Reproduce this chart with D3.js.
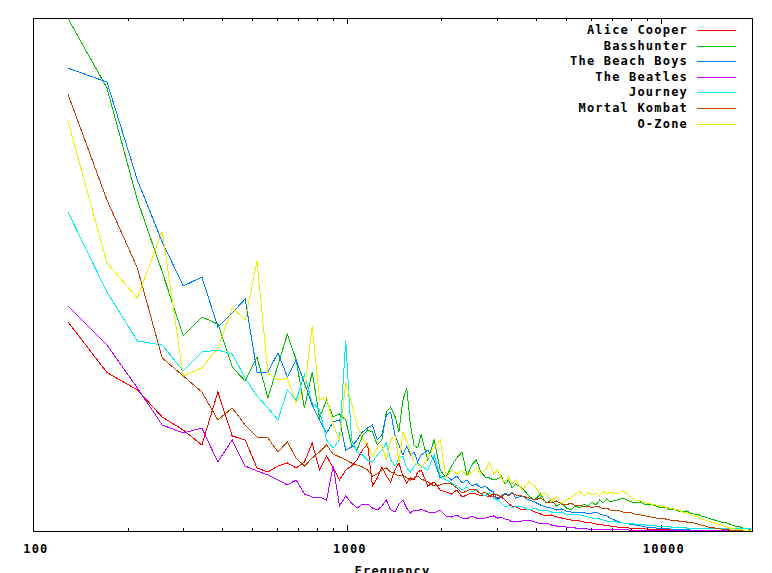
<!DOCTYPE html>
<html>
<head>
<meta charset="utf-8">
<script src="https://cdn.jsdelivr.net/npm/d3@7"></script>
<style>
  body { margin: 0; background: #fff; }
  text {
    font-family: 'DejaVu Sans Mono', monospace;
    font-weight: bold;
    font-size: 12px;
    letter-spacing: 1.2px;
    fill: #000;
  }
</style>
</head>
<body>
<svg width="772" height="573"></svg>
<script>
// FFT bin centre frequencies (Hz)
const freqs = [
  129, 172, 215, 258, 301, 345, 388, 431, 474, 517, 560, 603, 646, 689, 732, 775, 818, 861, 904, 947,
  991, 1034, 1077, 1120, 1163, 1206, 1249, 1292, 1335, 1378, 1421, 1464, 1507, 1550, 1593, 1636, 1680, 1723,
  1809, 1895, 1981, 2067, 2153, 2239, 2326, 2412, 2498, 2584, 2670, 2756, 2843, 2929, 3015, 3101, 3187, 3273, 3359, 3445,
  3618, 3790, 3962, 4134, 4307, 4479, 4651, 4823, 4996, 5168, 5340, 5512, 5685, 5857, 6029, 6201, 6374, 6546, 6718, 6890,
  7235, 7579, 7924, 8268, 8613, 8957, 9302, 9646, 9991, 10336, 10680, 11025, 11370, 11714, 12059, 12403, 12748, 13092,
  13437, 13781, 14126, 14470, 14815, 15159, 15504, 15848, 16193, 16537, 16882, 17226, 17571, 17915, 18260, 18604, 18949, 19293
]

const aliceCooper = [
  41.9, 31.7, 28.2, 22.8, 20.2, 17.2, 27.8, 19.0, 18.2, 12.6, 11.8, 13.0, 13.6, 12.6, 13.8, 17.6, 12.2, 15.0, 12.6, 10.2,
  12.2, 13.0, 14.2, 16.2, 17.4, 9.0, 10.6, 12.8, 11.0, 9.8, 12.2, 13.6, 11.0, 9.6, 10.6, 10.2, 11.8, 12.2,
  9.0, 9.8, 8.2, 7.8, 7.4, 8.2, 6.8, 7.2, 7.6, 7.4, 7.0, 7.2, 6.8, 7.0, 6.6, 6.8, 6.2, 5.4, 5.0, 4.8,
  4.2, 4.4, 3.8, 3.4, 3.0, 3.2, 2.8, 2.6, 2.4, 2.2, 2.2, 2.0, 1.8, 1.8, 1.6, 1.4, 1.4, 1.2, 1.2, 1.0,
  0.8, 0.8, 0.6, 0.6, 0.5, 0.4, 0.4, 0.4, 0.3, 0.3, 0.2, 0.2, 0.2, 0.2, 0.2, 0.2, 0.2, 0.2,
  0.2, 0.2, 0.2, 0.2, 0.2, 0.2, 0.2, 0.2, 0.2, 0.2, 0.2, 0.2, 0.2, 0.2, 0.2, 0.2, 0.2, 0.2
]
const basshunter = [
  102.6, 88.6, 66.2, 51.8, 39.0, 42.8, 41.4, 32.8, 30.0, 34.8, 26.6, 33.2, 39.4, 34.2, 24.6, 31.8, 22.6, 26.2, 22.8, 23.4,
  22.2, 17.2, 16.2, 19.0, 20.2, 19.8, 17.2, 18.2, 23.8, 24.8, 23.0, 19.8, 26.2, 28.6, 21.2, 17.2, 16.6, 19.2,
  14.2, 18.2, 12.2, 10.6, 13.0, 14.6, 15.8, 11.0, 13.2, 14.2, 11.8, 10.8, 10.6, 10.2, 10.4, 11.0, 9.4, 10.2, 8.6, 9.4,
  8.6, 7.0, 6.2, 7.4, 5.6, 6.2, 5.0, 5.6, 4.6, 4.2, 5.0, 4.6, 5.4, 5.0, 5.8, 5.2, 6.2, 5.6, 6.4, 5.8,
  6.2, 6.6, 6.0, 5.6, 5.8, 5.2, 5.4, 5.0, 4.6, 4.8, 4.2, 4.4, 4.0, 3.8, 4.0, 3.6, 3.4, 3.4,
  3.0, 2.8, 2.6, 2.4, 2.2, 2.0, 1.8, 1.8, 1.6, 1.4, 1.2, 1.0, 1.0, 0.8, 0.6, 0.6, 0.4, 0.4
]
const beachBoys = [
  92.6, 89.8, 70.2, 57.8, 49.0, 50.8, 40.8, 43.6, 46.4, 31.8, 31.8, 35.6, 30.8, 34.2, 29.6, 25.2, 22.2, 19.6, 21.8, 22.2,
  16.2, 16.8, 18.2, 19.8, 20.6, 21.2, 18.2, 19.2, 23.2, 23.8, 19.2, 17.2, 15.2, 17.0, 15.2, 15.8, 13.8, 15.2,
  16.2, 14.2, 10.6, 11.2, 10.2, 11.0, 9.6, 10.2, 9.0, 9.4, 8.6, 9.0, 8.2, 7.8, 6.2, 7.0, 7.6, 7.2, 7.8, 6.6,
  7.0, 6.2, 5.8, 5.2, 4.8, 4.6, 4.2, 4.4, 4.0, 3.8, 3.8, 3.6, 3.8, 3.4, 3.6, 3.8, 3.4, 3.2, 3.0, 2.6,
  2.0, 1.6, 1.4, 1.2, 1.0, 0.8, 0.8, 0.6, 0.6, 0.6, 0.4, 0.4, 0.4, 0.4, 0.3, 0.2, 0.2, 0.2,
  0.2, 0.2, 0.2, 0.2, 0.2, 0.2, 0.2, 0.2, 0.2, 0.2, 0.2, 0.2, 0.2, 0.2, 0.2, 0.2, 0.2, 0.2
]
const beatles = [
  45.1, 37.2, 28.6, 21.2, 19.6, 20.6, 13.8, 18.2, 13.0, 12.0, 11.2, 10.2, 9.2, 10.2, 7.4, 6.8, 6.8, 6.2, 13.0, 5.0,
  7.0, 5.6, 4.6, 5.4, 5.4, 4.6, 4.2, 5.0, 6.2, 4.2, 3.8, 5.4, 6.2, 4.6, 3.6, 4.2, 4.0, 4.4,
  3.8, 3.6, 4.2, 3.0, 2.8, 3.2, 2.6, 2.4, 3.0, 2.6, 2.4, 2.6, 2.8, 3.0, 2.6, 2.8, 2.4, 2.2, 1.8, 2.0,
  2.0, 2.2, 1.8, 1.4, 1.6, 1.2, 1.0, 1.0, 0.8, 0.8, 0.6, 0.6, 0.6, 0.4, 0.4, 0.4, 0.4, 0.3, 0.3, 0.3,
  0.3, 0.3, 0.2, 0.2, 0.2, 0.2, 0.2, 0.2, 0.2, 0.2, 0.2, 0.2, 0.2, 0.2, 0.2, 0.2, 0.2, 0.2,
  0.2, 0.2, 0.2, 0.2, 0.2, 0.2, 0.2, 0.2, 0.2, 0.2, 0.2, 0.2, 0.2, 0.2, 0.2, 0.2, 0.2, 0.2
]
const journey = [
  63.9, 47.8, 38.0, 37.2, 32.0, 35.8, 36.2, 35.4, 30.6, 27.0, 24.6, 22.2, 28.2, 26.2, 31.2, 25.6, 24.2, 18.2, 16.6, 18.2,
  38.2, 18.2, 15.8, 15.2, 14.2, 13.8, 15.2, 16.2, 17.6, 14.2, 13.0, 14.6, 15.0, 12.6, 11.8, 13.0, 13.6, 13.0,
  12.2, 15.2, 11.0, 10.2, 9.6, 9.0, 8.2, 8.8, 7.8, 8.2, 7.4, 7.0, 7.6, 6.6, 6.2, 5.6, 4.8, 5.2, 4.6, 5.0,
  4.8, 4.2, 4.6, 4.0, 4.2, 3.8, 3.6, 3.8, 3.4, 3.2, 3.4, 3.2, 3.0, 2.8, 2.6, 2.6, 2.4, 2.2, 2.0, 2.0,
  1.8, 1.6, 1.6, 1.4, 1.4, 1.2, 1.2, 1.0, 1.0, 1.0, 0.8, 0.8, 0.8, 0.8, 0.6, 0.6, 0.6, 0.6,
  0.5, 0.5, 0.5, 0.5, 0.5, 0.5, 0.5, 0.5, 0.5, 0.5, 0.5, 0.5, 0.5, 0.5, 0.5, 0.5, 0.5, 0.5
]
const mortalKombat = [
  87.5, 66.2, 52.6, 34.6, 31.0, 27.8, 22.2, 24.6, 21.2, 18.8, 18.6, 15.8, 17.8, 14.6, 13.0, 14.6, 15.8, 17.2, 15.4, 14.8,
  14.2, 13.6, 13.2, 12.8, 12.2, 11.0, 11.4, 12.2, 12.6, 11.8, 11.4, 11.0, 11.2, 10.6, 10.2, 10.6, 11.0, 10.4,
  9.8, 9.0, 9.2, 9.6, 9.4, 8.6, 7.6, 8.0, 8.4, 8.2, 7.4, 7.8, 7.0, 7.4, 7.2, 6.8, 7.4, 7.0, 7.6, 7.2,
  7.0, 6.6, 6.2, 6.6, 5.8, 5.6, 6.0, 5.4, 5.2, 5.6, 5.0, 5.2, 4.8, 5.0, 4.6, 5.0, 4.8, 4.4, 4.6, 4.2,
  4.2, 3.8, 3.8, 3.4, 3.2, 3.0, 2.8, 2.6, 2.6, 2.4, 2.2, 2.2, 2.0, 2.0, 1.8, 1.8, 1.6, 1.4,
  1.2, 1.0, 0.8, 0.8, 0.6, 0.6, 0.4, 0.4, 0.3, 0.2, 0.2, 0.2, 0.2, 0.2, 0.2, 0.2, 0.2, 0.2
]
const oZone = [
  82.2, 53.6, 46.6, 60.0, 31.0, 32.6, 36.6, 44.6, 42.2, 54.0, 31.6, 30.2, 30.6, 25.6, 28.2, 41.0, 26.2, 26.8, 21.2, 18.2,
  29.8, 25.6, 21.2, 18.6, 17.2, 15.0, 16.6, 17.2, 14.2, 18.2, 19.2, 13.8, 19.8, 18.2, 15.8, 13.8, 13.2, 12.6,
  14.6, 16.6, 18.2, 10.6, 12.2, 11.4, 12.2, 11.0, 11.8, 12.6, 11.4, 12.2, 13.8, 11.4, 12.2, 10.6, 9.8, 11.0, 9.4, 10.2,
  8.2, 9.8, 9.0, 7.2, 7.6, 6.2, 6.8, 5.6, 6.2, 6.6, 7.4, 8.0, 7.0, 7.8, 7.2, 7.6, 7.0, 8.0, 7.4, 7.8,
  7.4, 8.0, 7.0, 6.2, 6.0, 5.6, 5.4, 5.2, 5.0, 4.8, 4.6, 4.4, 4.2, 3.8, 3.6, 3.4, 3.0, 2.8,
  2.4, 2.2, 2.0, 1.8, 1.6, 1.4, 1.2, 1.0, 0.8, 0.6, 0.6, 0.4, 0.4, 0.3, 0.2, 0.2, 0.2, 0.2
]

const majorTicks = [100, 1000, 10000]
const minorTicks = [200, 300, 400, 500, 600, 700, 800, 900, 2000, 3000, 4000, 5000, 6000, 7000, 8000, 9000]

const series = [
  { name: 'Alice Cooper', color: '#ff0000', values: aliceCooper },
  { name: 'Basshunter', color: '#00c000', values: basshunter },
  { name: 'The Beach Boys', color: '#0080ff', values: beachBoys },
  { name: 'The Beatles', color: '#c000ff', values: beatles },
  { name: 'Journey', color: '#00eeee', values: journey },
  { name: 'Mortal Kombat', color: '#c04000', values: mortalKombat },
  { name: 'O-Zone', color: '#eeee00', values: oZone },
]

const svg = d3.select('svg')
const plotLeft = 33, plotRight = 752, plotTop = 18, plotBottom = 531

const x = d3.scaleLog().domain([100, 19500]).range([plotLeft, plotRight])
const y = d3.scaleLinear().domain([0, 102.6]).range([plotBottom, plotTop])

// ticks point inwards, gnuplot style, mirrored on top border
svg.append('g').
  attr('transform', `translate(0,${plotBottom})`).
  call(d3.axisBottom(x).tickValues(majorTicks).tickSize(-6).tickPadding(13.5).tickFormat(d3.format('d')))
svg.append('g').
  attr('transform', `translate(0,${plotBottom})`).
  call(d3.axisBottom(x).tickValues(minorTicks).tickSize(-3).tickFormat(''))
svg.append('g').
  attr('transform', `translate(0,${plotTop})`).
  call(d3.axisTop(x).tickValues(majorTicks).tickSize(-6).tickFormat(''))
svg.append('g').
  attr('transform', `translate(0,${plotTop})`).
  call(d3.axisTop(x).tickValues(minorTicks).tickSize(-3).tickFormat(''))

svg.selectAll('.domain').remove()
svg.selectAll('.tick line').attr('stroke', '#000').attr('shape-rendering', 'crispEdges')
svg.selectAll('.tick text').attr('dx', '0.2em')
svg.selectAll('g').attr('font-family', null).attr('font-size', null)

const line = d3.line().
  x((d, i) => x(freqs[i])).
  y(d => y(d))

// gd-style aliased 1px lines
svg.append('g').
  selectAll('path').
  data(series).
  enter().
  append('path').
  attr('fill', 'none').
  attr('stroke', d => d.color).
  attr('stroke-width', 1).
  attr('shape-rendering', 'crispEdges').
  attr('d', d => line(d.values))

svg.append('rect').
  attr('x', plotLeft).
  attr('y', plotTop).
  attr('width', plotRight - plotLeft).
  attr('height', plotBottom - plotTop).
  attr('fill', 'none').
  attr('stroke', '#000').
  attr('shape-rendering', 'crispEdges')

svg.append('text').
  attr('x', (plotLeft + plotRight) / 2).
  attr('y', 575).
  attr('text-anchor', 'middle').
  text('Frequency')

const legend = svg.append('g').
  selectAll('g').
  data(series).
  enter().
  append('g').
  attr('transform', (d, i) => `translate(0,${Math.round(30 + i * 15.6)})`)

legend.append('text').
  attr('x', 688).
  attr('dy', '0.35em').
  attr('text-anchor', 'end').
  text(d => d.name)

legend.append('line').
  attr('x1', 697).
  attr('x2', 736).
  attr('y1', 0.5).
  attr('y2', 0.5).
  attr('stroke', d => d.color)
</script>
</body>
</html>
